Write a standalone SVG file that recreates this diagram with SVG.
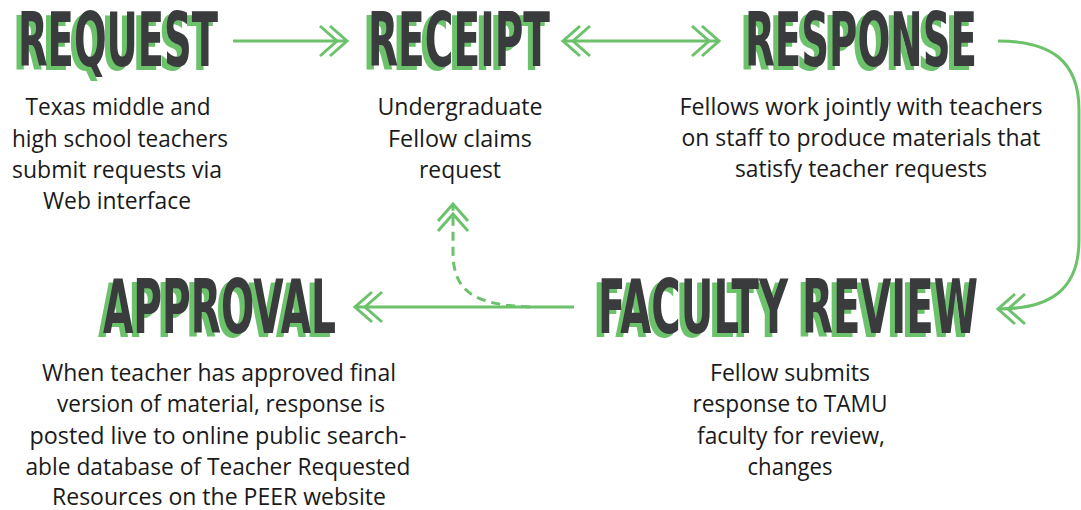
<svg xmlns="http://www.w3.org/2000/svg" xmlns:xlink="http://www.w3.org/1999/xlink" width="1081" height="510" viewBox="0 0 1081 510">
<style>
.head{font-family:"Liberation Sans Narrow","DejaVu Sans Condensed","Liberation Sans",sans-serif;font-weight:bold;font-size:75px;fill:#3a3b3d}
.shadow{font-family:"Liberation Sans Narrow","DejaVu Sans Condensed","Liberation Sans",sans-serif;font-weight:bold;font-size:75px;fill:#6cc16b}
.desc{font-family:"Open Sans","Noto Sans","Liberation Sans",sans-serif;font-size:23px;fill:#1a1a1a;text-anchor:middle}
.conn{fill:none;stroke:#6cc16b;stroke-width:3}
.dash{stroke-dasharray:9 6}
</style>
<defs>
<marker id="chev" markerUnits="userSpaceOnUse" viewBox="-30 -18 33 36" refX="0" refY="0" markerWidth="33" markerHeight="36" orient="auto-start-reverse" overflow="visible">
<path d="M-17,-15 L0,0 L-17,15 M-27,-15 L-10,0 L-27,15" fill="none" stroke="#6cc16b" stroke-width="3"/>
</marker>
</defs>
<rect width="1081" height="510" fill="#ffffff"/>

<g id="connectors">
<path class="conn" d="M233,41 L347,41" marker-end="url(#chev)"/>
<path class="conn" d="M563,41 L719,41" marker-start="url(#chev)" marker-end="url(#chev)"/>
<path class="conn" d="M998,41 C1050,41 1079,60 1079,110 L1079,240 C1079,290 1050,309 998,309" marker-end="url(#chev)"/>
<path class="conn" d="M574,307 L355,307" marker-end="url(#chev)"/>
<path class="conn dash" d="M530,307 C472,305 453,290 453,252 L453,204" marker-end="url(#chev)"/>
</g>

<g id="node-request">
<text class="shadow" x="13" y="70" textLength="200" lengthAdjust="spacingAndGlyphs">REQUEST</text>
<text class="head" x="18" y="66" textLength="200" lengthAdjust="spacingAndGlyphs">REQUEST</text>
<text class="desc" x="118" y="115" textLength="185" lengthAdjust="spacingAndGlyphs">Texas middle and</text>
<text class="desc" x="120" y="147" textLength="216" lengthAdjust="spacingAndGlyphs">high school teachers</text>
<text class="desc" x="117" y="178" textLength="210" lengthAdjust="spacingAndGlyphs">submit requests via</text>
<text class="desc" x="117" y="209" textLength="148" lengthAdjust="spacingAndGlyphs">Web interface</text>
</g>

<g id="node-receipt">
<text class="shadow" x="363" y="70" textLength="182" lengthAdjust="spacingAndGlyphs">RECEIPT</text>
<text class="head" x="368" y="66" textLength="182" lengthAdjust="spacingAndGlyphs">RECEIPT</text>
<text class="desc" x="460" y="115" textLength="165" lengthAdjust="spacingAndGlyphs">Undergraduate</text>
<text class="desc" x="460" y="147" textLength="144" lengthAdjust="spacingAndGlyphs">Fellow claims</text>
<text class="desc" x="460" y="178" textLength="82" lengthAdjust="spacingAndGlyphs">request</text>
</g>

<g id="node-response">
<text class="shadow" x="740" y="70" textLength="232" lengthAdjust="spacingAndGlyphs">RESPONSE</text>
<text class="head" x="745" y="66" textLength="232" lengthAdjust="spacingAndGlyphs">RESPONSE</text>
<text class="desc" x="861" y="115" textLength="363" lengthAdjust="spacingAndGlyphs">Fellows work jointly with teachers</text>
<text class="desc" x="861" y="146" textLength="359" lengthAdjust="spacingAndGlyphs">on staff to produce materials that</text>
<text class="desc" x="861" y="177" textLength="252" lengthAdjust="spacingAndGlyphs">satisfy teacher requests</text>
</g>

<g id="node-faculty-review">
<text class="shadow" x="593" y="337" textLength="380" lengthAdjust="spacingAndGlyphs">FACULTY REVIEW</text>
<text class="head" x="598" y="333" textLength="380" lengthAdjust="spacingAndGlyphs">FACULTY REVIEW</text>
<text class="desc" x="790" y="381" textLength="160" lengthAdjust="spacingAndGlyphs">Fellow submits</text>
<text class="desc" x="790" y="412" textLength="195" lengthAdjust="spacingAndGlyphs">response to TAMU</text>
<text class="desc" x="791" y="444" textLength="188" lengthAdjust="spacingAndGlyphs">faculty for review,</text>
<text class="desc" x="790" y="475" textLength="85" lengthAdjust="spacingAndGlyphs">changes</text>
</g>

<g id="node-approval">
<text class="shadow" x="98" y="337" textLength="233" lengthAdjust="spacingAndGlyphs">APPROVAL</text>
<text class="head" x="103" y="333" textLength="233" lengthAdjust="spacingAndGlyphs">APPROVAL</text>
<text class="desc" x="219" y="381" textLength="354" lengthAdjust="spacingAndGlyphs">When teacher has approved final</text>
<text class="desc" x="221" y="412" textLength="328" lengthAdjust="spacingAndGlyphs">version of material, response is</text>
<text class="desc" x="218" y="444" textLength="377" lengthAdjust="spacingAndGlyphs">posted live to online public search-</text>
<text class="desc" x="218" y="475" textLength="385" lengthAdjust="spacingAndGlyphs">able database of Teacher Requested</text>
<text class="desc" x="219" y="505" textLength="334" lengthAdjust="spacingAndGlyphs">Resources on the PEER website</text>
</g>
</svg>
